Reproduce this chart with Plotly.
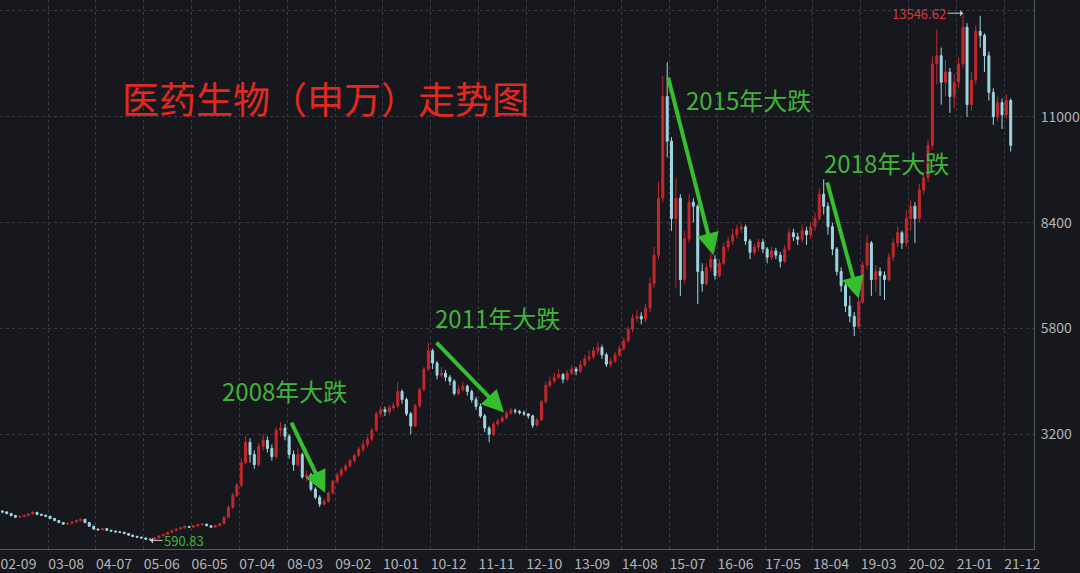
import pandas as pd
import plotly.graph_objects as go

# ---------------- data: monthly candles of 申万医药生物, 2002-09 .. 2022-01 ----------------
START_MONTH = "2002-09-15"

OPEN = [
    1310, 1290, 1250, 1200,                                                    # 2002 (Sep-Dec)
    1160, 1180, 1200, 1240, 1280, 1230, 1210, 1185, 1130, 1080, 1030, 990,     # 2003
    1010, 1040, 1080, 1110, 1030, 940, 870, 850, 880, 840, 820, 800,           # 2004
    790, 760, 720, 690, 670, 650, 620, 610, 650, 700, 740, 790,                # 2005
    830, 870, 900, 930, 915, 950, 980, 990, 950, 915, 950, 1000,               # 2006
    1160, 1400, 1700, 1950, 2500, 3000, 2700, 2450, 2900, 3050, 2850, 2650,    # 2007
    3300, 3350, 3150, 2700, 2450, 2700, 2150, 2200, 1850, 1650, 1480, 1550,    # 2008
    1750, 2050, 2200, 2320, 2420, 2550, 2680, 2830, 2950, 3080, 3300, 3700,    # 2009
    3800, 3750, 3850, 3900, 4250, 4050, 3700, 3400, 3900, 4300, 4800, 5250,    # 2010
    4950, 4650, 4700, 4600, 4500, 4200, 4300, 4380, 4250, 4050, 3880, 3650,    # 2011
    3350, 3200, 3450, 3520, 3600, 3720, 3780, 3760, 3730, 3700, 3650, 3420,    # 2012
    3550, 4000, 4400, 4500, 4600, 4670, 4550, 4700, 4800, 4750, 4900, 5050,    # 2013
    5100, 5250, 5330, 5150, 4920, 5000, 5150, 5300, 5500, 5780, 6050, 6100,    # 2014
    6030, 6300, 6900, 7600, 9000, 11500, 10400, 8500, 9000, 7000, 8000, 8900,  # 2015
    8800, 7200, 6900, 7300, 7500, 7100, 7400, 7800, 7950, 8100, 8240, 8290,    # 2016
    7950, 7670, 7800, 7920, 7750, 7550, 7700, 7600, 7450, 7750, 8150, 8050,    # 2017
    7990, 8200, 8100, 8300, 8500, 9100, 8800, 8300, 7750, 7200, 6850, 6350,    # 2018
    6100, 5850, 6450, 7350, 7900, 7000, 7200, 7100, 7000, 7550, 7900, 8150,    # 2019
    7900, 8500, 8800, 8500, 9200, 9500, 10300, 12300, 12500, 11850, 12100, 11500,  # 2020
    11850, 12300, 13200, 11300, 11900, 13100, 13000, 12500, 11600, 11000, 11350, 11050,  # 2021
    11400,                                                                     # 2022
]
HIGH = [
    1330, 1310, 1270, 1220,
    1200, 1230, 1260, 1310, 1290, 1250, 1220, 1190, 1140, 1090, 1040, 1030,
    1060, 1100, 1130, 1120, 1040, 950, 880, 900, 890, 850, 830, 810,
    800, 770, 730, 700, 680, 660, 630, 660, 710, 750, 800, 850,
    890, 920, 960, 950, 970, 1000, 1020, 1000, 960, 970, 1020, 1180,
    1440, 1760, 2000, 2600, 3150, 3100, 2800, 2980, 3200, 3150, 2950, 3380,
    3490, 3450, 3200, 2800, 2850, 2750, 2300, 2250, 1900, 1700, 1620, 1800,
    2080, 2260, 2380, 2480, 2600, 2730, 2900, 3050, 3150, 3350, 3760, 3880,
    3880, 3920, 3980, 4480, 4300, 4100, 3750, 3950, 4350, 4850, 5450, 5300,
    5000, 4850, 4780, 4650, 4550, 4400, 4500, 4420, 4300, 4120, 3950, 3700,
    3400, 3500, 3580, 3660, 3780, 3850, 3830, 3800, 3780, 3720, 3680, 3600,
    4050, 4500, 4620, 4700, 4800, 4700, 4780, 4900, 4850, 5000, 5150, 5250,
    5350, 5450, 5400, 5200, 5080, 5220, 5380, 5580, 5850, 6150, 6250, 6200,
    6400, 7050, 7800, 9400, 12000, 12340, 10500, 9500, 9100, 8200, 9100, 9000,
    8850, 7400, 7400, 7650, 7600, 7500, 7900, 8050, 8250, 8350, 8400, 8350,
    8000, 7880, 8000, 8000, 7800, 7800, 7780, 7680, 7850, 8250, 8250, 8150,
    8350, 8300, 8400, 8650, 9250, 9460, 8900, 8400, 7800, 7300, 6950, 6600,
    6200, 6550, 7450, 8100, 7950, 7350, 7300, 7200, 7650, 8000, 8300, 8200,
    8700, 8950, 8900, 9350, 9650, 10450, 12500, 13150, 12700, 12400, 12200, 12050,
    12450, 13546.62, 13300, 12100, 13250, 13480, 13050, 12600, 11700, 11500, 11450, 11550,
    11450,
]
LOW = [
    1260, 1230, 1180, 1140,
    1140, 1160, 1190, 1220, 1210, 1190, 1160, 1110, 1060, 1010, 970, 980,
    990, 1020, 1060, 1010, 920, 850, 830, 840, 820, 800, 780, 770,
    740, 700, 670, 650, 630, 600, 590.83, 600, 640, 690, 730, 780,
    820, 850, 880, 900, 900, 930, 960, 940, 900, 900, 940, 990,
    1140, 1370, 1650, 1900, 2450, 2500, 2350, 2400, 2800, 2750, 2550, 2600,
    3150, 3050, 2600, 2300, 2400, 2100, 2050, 1800, 1600, 1410, 1450, 1520,
    1720, 1980, 2150, 2280, 2380, 2500, 2640, 2760, 2880, 3020, 3250, 3620,
    3650, 3680, 3780, 3850, 3950, 3650, 3200, 3380, 3850, 4250, 4750, 4800,
    4550, 4600, 4500, 4400, 4150, 4150, 4250, 4150, 3980, 3800, 3600, 3250,
    3000, 3150, 3400, 3480, 3560, 3680, 3700, 3680, 3650, 3580, 3350, 3380,
    3530, 3950, 4350, 4450, 4550, 4450, 4500, 4650, 4650, 4700, 4850, 4980,
    5050, 5150, 5050, 4850, 4850, 4950, 5100, 5250, 5450, 5700, 5950, 5900,
    5950, 6200, 6800, 7500, 8900, 10000, 8200, 6800, 6600, 6900, 7900, 8400,
    6400, 6700, 6850, 7200, 7000, 7050, 7350, 7700, 7850, 8000, 8150, 7850,
    7500, 7600, 7700, 7650, 7400, 7480, 7500, 7300, 7400, 7700, 7950, 7850,
    7900, 7850, 8000, 8200, 8450, 8600, 8100, 7600, 7100, 6700, 6200, 5950,
    5610, 5800, 6400, 7250, 6600, 6700, 6600, 6500, 6950, 7450, 7800, 7750,
    7800, 8200, 7900, 8400, 9100, 9400, 10200, 11800, 11300, 11500, 11100, 11200,
    11700, 12200, 11000, 11150, 11800, 12700, 12100, 11400, 10800, 10900, 10700, 10950,
    10150,
]
CLOSE = [
    1290, 1250, 1200, 1160,
    1180, 1200, 1240, 1280, 1230, 1210, 1185, 1130, 1080, 1030, 990, 1010,
    1040, 1080, 1110, 1030, 940, 870, 850, 880, 840, 820, 800, 790,
    760, 720, 690, 670, 650, 620, 610, 650, 700, 740, 790, 830,
    870, 900, 930, 915, 950, 980, 990, 950, 915, 950, 1000, 1160,
    1400, 1700, 1950, 2500, 3000, 2700, 2450, 2900, 3050, 2850, 2650, 3300,
    3350, 3150, 2700, 2450, 2700, 2150, 2200, 1850, 1650, 1480, 1550, 1750,
    2050, 2200, 2320, 2420, 2550, 2680, 2830, 2950, 3080, 3300, 3700, 3800,
    3750, 3850, 3900, 4250, 4050, 3700, 3400, 3900, 4300, 4800, 5250, 4950,
    4650, 4700, 4600, 4500, 4200, 4300, 4380, 4250, 4050, 3880, 3650, 3350,
    3200, 3450, 3520, 3600, 3720, 3780, 3760, 3730, 3700, 3650, 3420, 3550,
    4000, 4400, 4500, 4600, 4670, 4550, 4700, 4800, 4750, 4900, 5050, 5100,
    5250, 5330, 5150, 4920, 5000, 5150, 5300, 5500, 5780, 6050, 6100, 6030,
    6300, 6900, 7600, 9000, 11500, 10400, 8500, 9000, 7000, 8000, 8900, 8800,
    7200, 6900, 7300, 7500, 7100, 7400, 7800, 7950, 8100, 8240, 8290, 7950,
    7670, 7800, 7920, 7750, 7550, 7700, 7600, 7450, 7750, 8150, 8050, 7990,
    8200, 8100, 8300, 8500, 9100, 8800, 8300, 7750, 7200, 6850, 6350, 6100,
    5850, 6450, 7350, 7900, 7000, 7200, 7100, 7000, 7550, 7900, 8150, 7900,
    8500, 8800, 8500, 9200, 9500, 10300, 12300, 12500, 11850, 12100, 11500, 11850,
    12300, 13200, 11300, 11900, 13100, 13000, 12500, 11600, 11000, 11350, 11050, 11400,
    10300,
]

Y_TICKS = [3200, 5800, 8400, 11000, 13600]
Y_TICK_TEXT = ["3200", "5800", "8400", "11000", "13600"]
TITLE = "医药生物（申万）走势图"
DROP_LABELS = ["2008年大跌", "2011年大跌", "2015年大跌", "2018年大跌"]
# (label month, label value, arrow-tail month, tail value, arrow-head month, head value); months counted from 2002-09
DROP_POS = [
    (65.4, 4281, 66.8, 3520, 74.7, 1760),
    (114.4, 6075, 100.0, 5485, 115.9, 3735),
    (172.2, 11431, 153.6, 12003, 164.1, 7600),
    (204.0, 9883, 190.2, 9424, 197.5, 6534),
]

# ---------------- styling ----------------
BG = "#17181d"
GRID = "#3b3c44"
AXIS = "#55575f"
TICK_COLOR = "#b4b4b8"
UP = "#c4282c"
DOWN = "#9fd6e2"
GREEN_TXT = "#40b43a"
GREEN_ARROW = "#35bf2f"
FONT = "Noto Sans CJK SC"

base = pd.Timestamp("2002-09-01")


def mdate(mf):
    i = int(mf)
    d0 = base + pd.DateOffset(months=i)
    d1 = base + pd.DateOffset(months=i + 1)
    return d0 + (d1 - d0) * (mf - i)


dates = [pd.Timestamp(START_MONTH) + pd.DateOffset(months=i) for i in range(len(CLOSE))]

fig = go.Figure()
fig.add_trace(go.Candlestick(
    x=dates, open=OPEN, high=HIGH, low=LOW, close=CLOSE,
    increasing=dict(line=dict(color=UP, width=1), fillcolor=UP),
    decreasing=dict(line=dict(color=DOWN, width=1), fillcolor=DOWN),
    whiskerwidth=0, showlegend=False, hoverinfo="skip",
))

annotations = []
# title
annotations.append(dict(
    text=TITLE, xref="paper", yref="paper", x=0.3144, y=0.822,
    xanchor="center", yanchor="middle", showarrow=False,
    font=dict(family=FONT, size=37, color="#e5281f"),
))
# drop labels and arrows
for label, (lm, lv, tm, tv, hm, hv) in zip(DROP_LABELS, DROP_POS):
    annotations.append(dict(
        text=label, xref="x", yref="y", x=mdate(lm), y=lv,
        xanchor="center", yanchor="middle", showarrow=False,
        font=dict(family=FONT, size=24, color=GREEN_TXT),
    ))
    annotations.append(dict(
        text="", xref="x", yref="y", x=mdate(hm), y=hv,
        axref="x", ayref="y", ax=mdate(tm), ay=tv,
        showarrow=True, arrowhead=2, arrowsize=1.1, arrowwidth=4,
        arrowcolor=GREEN_ARROW, standoff=0, startstandoff=0,
    ))

# max / min markers
imax = max(range(len(HIGH)), key=lambda i: HIGH[i])
imin = min(range(len(LOW)), key=lambda i: LOW[i])
annotations.append(dict(
    text=f"{HIGH[imax]:.2f}", xref="x", yref="y", x=dates[imax], y=HIGH[imax],
    ax=-44, ay=0, showarrow=True, arrowhead=1, arrowsize=1, arrowwidth=1,
    arrowcolor="#c8c8cc", font=dict(family=FONT, size=13, color="#d8393b"),
))
annotations.append(dict(
    text=f"{LOW[imin]:.2f}", xref="x", yref="y", x=dates[imin], y=LOW[imin],
    ax=34, ay=0, showarrow=True, arrowhead=1, arrowsize=1, arrowwidth=1,
    arrowcolor="#c8c8cc", font=dict(family=FONT, size=13, color=GREEN_TXT),
))

fig.update_layout(
    width=1080, height=573,
    margin=dict(l=0, r=40, t=0, b=23),
    paper_bgcolor=BG, plot_bgcolor=BG,
    showlegend=False,
    font=dict(family=FONT, color=TICK_COLOR),
    annotations=annotations,
    xaxis=dict(
        type="date", range=["2002-08-29", "2022-06-27"],
        tick0="2002-09-01", dtick="M11", tickformat="%y-%m",
        showgrid=True, gridcolor=GRID, griddash="dot", gridwidth=1,
        showline=True, linecolor=AXIS, linewidth=1,
        ticks="", ticklabelshift=18, ticklabelstandoff=2,
        tickfont=dict(family=FONT, size=14, color=TICK_COLOR),
        rangeslider=dict(visible=False), zeroline=False,
    ),
    yaxis=dict(
        side="right", range=[379, 13870], tickvals=Y_TICKS, ticktext=Y_TICK_TEXT,
        showgrid=True, gridcolor=GRID, griddash="dot", gridwidth=1,
        showline=True, linecolor=AXIS, linewidth=1,
        ticks="", ticklabelstandoff=3,
        tickfont=dict(family=FONT, size=14, color=TICK_COLOR),
        zeroline=False,
    ),
)

fig.write_html(
    "out.html",
    config={"displayModeBar": False},
    post_script="document.body.style.margin='0';document.body.style.background='" + BG + "';",
)
